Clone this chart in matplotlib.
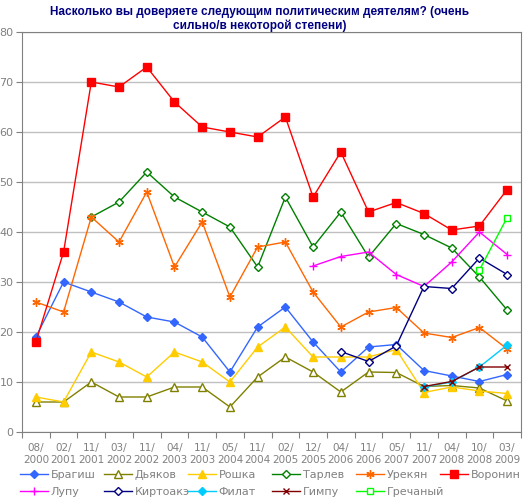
import numpy as np
import matplotlib
matplotlib.use("Agg")
import matplotlib.pyplot as plt

nan = np.nan

dates = ["08/\n2000", "02/\n2001", "11/\n2001", "03/\n2002", "11/\n2002", "04/\n2003",
         "11/\n2003", "05/\n2004", "11/\n2004", "02/\n2005", "12/\n2005", "04/\n2006",
         "11/\n2006", "05/\n2007", "11/\n2007", "04/\n2008", "10/\n2008", "03/\n2009"]

bragish = [19, 30, 28, 26, 23, 22, 19, 12, 21, 25, 18, 12, 17, 17.5, 12.3, 11.2, 10.1, 11.5]
dyakov = [6, 6, 10, 7, 7, 9, 9, 5, 11, 15, 12, 8, 12, 11.9, 9.1, 9.3, 8.8, 6.2]
roshka = [7, 6, 16, 14, 11, 16, 14, 10, 17, 21, 15, 15, 15, 16.5, 7.9, 9.0, 8.2, 7.7]
tarlev = [nan, nan, 43, 46, 52, 47, 44, 41, 33, 47, 37, 44, 35, 41.7, 39.5, 36.8, 31, 24.4]
urekyan = [26, 24, 43, 38, 48, 33, 42, 27, 37, 38, 28, 21, 24, 24.9, 19.8, 18.9, 20.9, 16.6]
voronin = [18, 36, 70, 69, 73, 66, 61, 60, 59, 63, 47, 56, 44, 45.9, 43.7, 40.4, 41.2, 48.5]
lupu = [nan, nan, nan, nan, nan, nan, nan, nan, nan, nan, 33.2, 35.1, 36, 31.5, 29.1, 34, 40, 35.5]
kirtoake = [nan, nan, nan, nan, nan, nan, nan, nan, nan, nan, nan, 16.1, 14.1, 17.2, 29.1, 28.7, 34.8, 31.5]
filat = [nan, nan, nan, nan, nan, nan, nan, nan, nan, nan, nan, nan, nan, nan, 9.0, 10.0, 13.0, 17.4]
gimpu = [nan, nan, nan, nan, nan, nan, nan, nan, nan, nan, nan, nan, nan, nan, 9.1, 10.1, 13.0, 13.0]
grechany = [nan, nan, nan, nan, nan, nan, nan, nan, nan, nan, nan, nan, nan, nan, nan, nan, 32.4, 42.9]

# name, values, colour, marker, filled, size
series = [
    ("Брагиш", bragish, "#3366FF", "D", True, 4),
    ("Дьяков", dyakov, "#808000", "^", False, 5.5),
    ("Рошка", roshka, "#FFCC00", "^", True, 5.5),
    ("Тарлев", tarlev, "#008000", "D", False, 4.5),
    ("Урекян", urekyan, "#FF6600", (6, 2, 0), True, 6),
    ("Воронин", voronin, "#FF0000", "s", True, 5.5),
    ("Лупу", lupu, "#FF00FF", "+", True, 6),
    ("Киртоакэ", kirtoake, "#000080", "D", False, 4.5),
    ("Филат", filat, "#00CCFF", "D", True, 4),
    ("Гимпу", gimpu, "#800000", "x", True, 5),
    ("Гречаный", grechany, "#00FF00", "s", False, 5),
]

plt.rcParams['font.family'] = ['DejaVu Sans']
fig = plt.figure(figsize=(5.3, 5.0), dpi=100)
ax = fig.add_axes([22 / 530, 68 / 500, 499 / 530, 400 / 500])

x = np.arange(len(dates))
handles = []
for name, vals, col, mk, filled, ms in series:
    y = np.array(vals, dtype=float)
    h, = ax.plot(x, y, color=col, lw=1, marker=mk, ms=ms,
                 markerfacecolor=col if filled else "white",
                 markeredgecolor=col, markeredgewidth=1, label=name)
    handles.append(h)

ax.set_xlim(-0.5, len(dates) - 0.5)
ax.set_ylim(0, 80)
ax.set_yticks(range(0, 81, 10))
ax.yaxis.grid(True, color="#C0C0C0", lw=1)
ax.set_axisbelow(True)
ax.tick_params(axis="y", colors="#808080", labelsize=8, length=4, pad=2,
               labelcolor="#808080")

ax.set_xticks(np.arange(-0.5, len(dates), 1))
ax.set_xticklabels([])
ax.set_xticks(x, minor=True)
ax.set_xticklabels(dates, minor=True)
ax.tick_params(axis="x", which="major", colors="#808080", length=4)
ax.tick_params(axis="x", which="minor", length=0, labelsize=7.5, pad=8,
               labelcolor="#808080")
for sp in ax.spines.values():
    sp.set_color("#808080")

fig.text(0.49, 0.988, "Насколько вы доверяете следующим политическим деятелям? (очень\n"
         "сильно/в некоторой степени)", ha="center", va="top", fontsize=8.5,
         fontweight="bold", color="#000080", linespacing=1.2,
         family=["Liberation Sans", "DejaVu Sans"])

# legend: six columns of fixed width, two rows
for c in range(6):
    idx = [i for i in (c, c + 6) if i < len(series)]
    fig.legend([handles[i] for i in idx], [series[i][0] for i in idx],
               loc="upper left", bbox_to_anchor=((20 + 84 * c) / 530, 1 - 470 / 500),
               frameon=False, fontsize=8, handlelength=2.5, handletextpad=0.25,
               labelspacing=0.65, borderpad=0, borderaxespad=0,
               labelcolor="#808080")

fig.savefig("out.png", dpi=100)
